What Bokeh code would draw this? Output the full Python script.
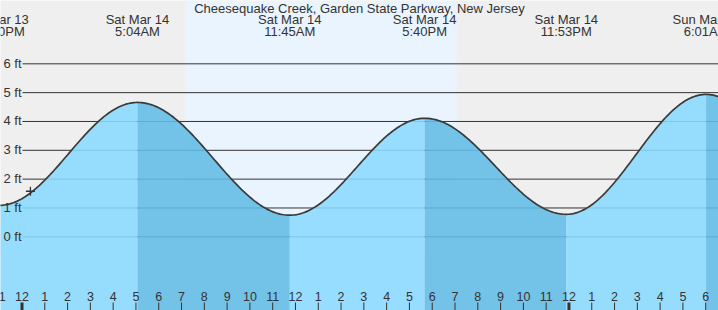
import numpy as np
from bokeh.plotting import figure
from bokeh.embed import file_html
from bokeh.resources import INLINE
from bokeh.core.properties import value

# ---------------- data ----------------
title_text = "Cheesequake Creek, Garden State Parkway, New Jersey"
# tide extremes, hours after midnight of Sat Mar 14
ext_hours = [-1.0, 5.067, 11.75, 17.667, 23.883, 30.017, 36.3]
ext_heights = [1.09, 4.66, 0.75, 4.11, 0.78, 4.94, 0.55]
ext_day = ["Fri Mar 13", "Sat Mar 14", "Sat Mar 14", "Sat Mar 14", "Sat Mar 14", "Sun Mar 15", ""]
ext_time = ["11:00PM", "5:04AM", "11:45AM", "5:40PM", "11:53PM", "6:01AM", ""]
sunrise_h = 7.17
sunset_h = 19.07
now_h = [0.37]
now_ft = [1.58]
ft_levels = [0, 1, 2, 3, 4, 5, 6]
ft_labels = ["0 ft", "1 ft", "2 ft", "3 ft", "4 ft", "5 ft", "6 ft"]
hour_ticks = list(range(-1, 31))
hour_labels = [str((h % 12) or 12) for h in hour_ticks]

# ---------------- layout ----------------
W, H = 718, 310
PX_PER_H = 22.79
PX_PER_FT = 28.83
X0 = -21.5 / PX_PER_H
X1 = X0 + W / PX_PER_H
Y1 = 236.3 / PX_PER_FT
Y0 = Y1 - H / PX_PER_FT

BG = "#EFEFEF"
DAY = "#EAF4FE"
WATER_LIGHT = "#8AD9FF"
WATER_DARK = "#62BCE6"
WATER_ALPHA = 0.88
INK = "#333333"
FONT = value("Liberation Sans")

p = figure(width=W, height=H, x_range=(X0, X1), y_range=(Y0, Y1),
           output_backend="svg", toolbar_location=None,
           min_border=0, min_border_left=0, min_border_right=0,
           min_border_top=0, min_border_bottom=0)
p.axis.visible = False
p.grid.visible = False
p.outline_line_color = None
p.background_fill_color = BG
p.border_fill_color = BG

# daylight band
p.quad(left=[sunrise_h], right=[sunset_h], bottom=[Y0], top=[Y1],
       fill_color=DAY, line_color=None)

# horizontal grid lines (under the water)
gx0 = X0 + 22 / PX_PER_H
p.segment(x0=[gx0] * len(ft_levels), x1=[X1] * len(ft_levels),
          y0=ft_levels, y1=ft_levels, line_color=INK, line_width=1)

# water: cosine curve between extremes
all_x, all_y = [], []
for i in range(len(ext_hours) - 1):
    t0, t1 = ext_hours[i], ext_hours[i + 1]
    v0, v1 = ext_heights[i], ext_heights[i + 1]
    t = np.linspace(t0, t1, 80)
    f = (t - t0) / (t1 - t0)
    v = v0 + (v1 - v0) * (1 - np.cos(np.pi * f)) / 2
    color = WATER_LIGHT if v1 > v0 else WATER_DARK
    p.varea(x=t, y1=np.full_like(t, Y0), y2=v, fill_color=color,
            fill_alpha=WATER_ALPHA)
    all_x.extend(t.tolist())
    all_y.extend(v.tolist())

p.line(all_x, all_y, line_color="#3a3a3a", line_width=1.7)

# current-time marker
p.scatter(now_h, now_ft, marker="cross", size=9, line_color=INK, line_width=1.3)

# y labels
p.text(x=[X0] * len(ft_levels), y=ft_levels, text=ft_labels, x_offset=3, y_offset=-0.5,
       text_font=FONT, text_font_size="13px", text_color=INK,
       text_align="left", text_baseline="alphabetic")

# hour ticks and labels
tick_len = 8 / PX_PER_FT
minor = [h for h in hour_ticks if h % 24 != 0]
major = [h for h in hour_ticks if h % 24 == 0]
p.segment(x0=minor, x1=minor, y0=[Y0] * len(minor), y1=[Y0 + tick_len] * len(minor),
          line_color=INK, line_width=1)
p.segment(x0=major, x1=major, y0=[Y0] * len(major), y1=[Y0 + tick_len] * len(major),
          line_color=INK, line_width=3)
p.text(x=hour_ticks, y=[Y0] * len(hour_ticks), text=hour_labels, y_offset=-14.5,
       text_font=FONT, text_font_size="12.5px", text_color=INK,
       text_align="center", text_baseline="alphabetic")

# extreme labels on top
lab_x = ext_hours[:-1]
p.text(x=lab_x, y=[Y1] * len(lab_x), text=ext_day[:-1], y_offset=19,
       text_font=FONT, text_font_size="13px", text_color=INK,
       text_align="center", text_baseline="alphabetic")
p.text(x=lab_x, y=[Y1] * len(lab_x), text=ext_time[:-1], y_offset=31,
       text_font=FONT, text_font_size="13px", text_color=INK,
       text_align="center", text_baseline="alphabetic")

# title
p.text(x=[(X0 + X1) / 2], y=[Y1], text=[title_text], y_offset=7.5,
       text_font=FONT, text_font_size="13px", text_color=INK,
       text_align="center", text_baseline="alphabetic")

open("out.html", "w").write(file_html(p, INLINE))
